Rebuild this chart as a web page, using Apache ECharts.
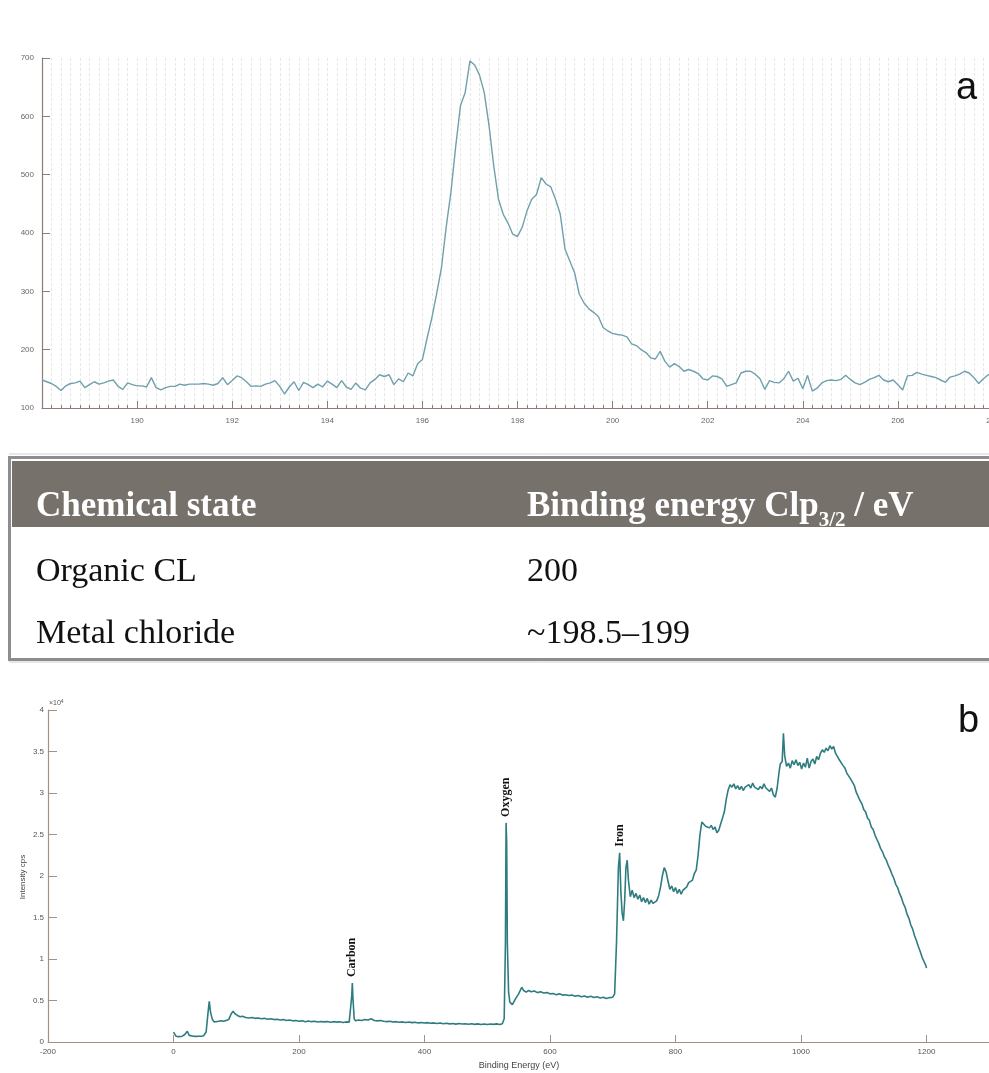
<!DOCTYPE html>
<html>
<head>
<meta charset="utf-8">
<script src="https://cdn.jsdelivr.net/npm/echarts@6/dist/echarts.min.js"></script>
<style>
  html, body { margin: 0; padding: 0; background: #ffffff; overflow: hidden; }
  #chart { width: 1070px; height: 1073px; }
</style>
</head>
<body>
<div id="chart"></div>
<script>
// ---- Panel a: Cl 2p high-resolution scan, 0.1 eV steps from 188.0 eV ----
const clStart = 188.0;
const clStep = 0.1;
const clIntensity = [
  148,145,142,137,130,138,142,143,146,135,   // 188.0 - 188.9
  140,145,141,143,146,148,137,132,143,140,   // 189
  138,138,136,152,135,131,135,137,137,141,   // 190
  139,141,141,141,142,141,139,142,152,140,   // 191
  147,155,152,145,137,138,137,141,143,147,   // 192
  137,124,136,145,130,144,140,135,141,136,   // 193
  146,141,135,147,136,132,143,134,131,143,   // 194
  149,157,154,157,140,150,145,160,155,176,   // 195
  183,220,255,296,340,410,470,548,618,641,   // 196
  695,688,671,641,585,515,458,432,417,398,   // 197
  394,410,438,458,466,495,484,479,458,432,   // 198
  372,352,332,295,280,270,264,257,238,232,   // 199
  228,226,225,222,210,207,200,195,186,184,   // 200
  197,180,170,176,171,163,166,163,159,150,   // 201
  148,155,154,150,137,140,143,160,163,163,   // 202
  158,150,132,147,144,143,150,163,146,151,   // 203
  133,156,129,134,143,147,148,147,149,156,   // 204
  149,143,140,144,149,152,156,148,145,148,   // 205
  140,131,155,156,161,158,156,154,152,148,   // 206
  144,153,155,158,163,160,152,142,150,157,   // 207
  158                                        // 208.0
];

// ---- Panel b: survey spectrum, [binding energy (eV), intensity (cps)] ----
const surveyValence = [
  [0,1200],[2,1000],[4,700],[6,900],[8,650],[10,600],[14,700],[18,900],[22,1300],[25,800],
  [28,650],[32,700],[36,680],[40,700],[44,690],[48,750],[52,1200],[55,3500],[57,4900],[59,3600],
  [62,2700],[65,2400],[68,2600],[72,2500],[76,2550],[80,2500],[84,2600],[88,2700],[92,3400],[95,3700],
  [98,3400],[102,3200],[106,3050],[110,3100],[115,2950],[120,2900],[125,2950],[130,2850],[135,2900],[140,2800],
  [145,2850],[150,2750],[155,2800],[160,2700],[165,2750],[170,2650],[175,2700],[180,2600],[185,2650],[190,2550],
  [195,2600],[200,2500],[205,2550],[210,2450],[215,2520],[220,2450],[225,2500],[230,2400],[235,2480],[240,2420],
  [245,2460],[250,2380],[255,2450],[260,2400],[265,2430],[270,2350],[275,2420],[280,2400]
];
const surveyCarbon = [
  [282,2600],[284,5500],[285,7100],[286,5200],[288,2800],[290,2550],[295,2650],[300,2600],[305,2700],[310,2650],
  [315,2800],[320,2600],[325,2550],[330,2600],[335,2500],[340,2450],[345,2500],[350,2400],[355,2450],[360,2380],
  [365,2420],[370,2350],[375,2400],[380,2330],[385,2380],[390,2300],[395,2350],[400,2280],[405,2330],[410,2250],
  [415,2300],[420,2220],[425,2280],[430,2200],[435,2250],[440,2180],[445,2230],[450,2150],[455,2220],[460,2170],
  [465,2200],[470,2130],[475,2190],[480,2120],[485,2180],[490,2110],[495,2170],[500,2100],[505,2160],[510,2120],
  [515,2180],[520,2100],[524,2200]
];
const surveyOxygen = [
  [527,2800],[529,12000],[530,26400],[531,24000],[532,12000],[534,6000],[536,4800],[540,4500],[545,5200],[550,5800],
  [555,6600],[558,6200],[562,6000],[566,6200],[570,6050],[575,6150],[580,5950],[585,6050],[590,5900],[595,5950],
  [600,5800],[605,5850],[610,5700],[615,5800],[620,5650],[625,5700],[630,5600],[635,5650],[640,5500],[645,5600],
  [650,5450],[655,5550],[660,5400],[665,5500],[670,5350],[675,5450],[680,5300],[685,5400],[690,5250],[695,5350],
  [700,5400],[703,5800]
];
const surveyIron = [
  [706,12000],[709,21000],[711,22800],[713,18000],[715,15500],[717,14600],[719,17000],[721,21000],[723,21900],[725,19500],
  [728,17500],[731,18300],[734,17400],[737,17900],[740,17200],[743,17700],[746,16900],[749,17400],[752,16800],[755,17300],
  [758,16600],[761,17100],[764,16700],[767,16900],[770,17000],[773,17600],[776,18600],[779,20000],[782,21000],[785,20500],
  [788,19400],[791,18400],[794,18800],[797,18100],[800,18600],[803,17900],[806,18400],[809,17800],[812,18300],[815,18500],
  [818,18700],[821,19200],[824,19000],[827,19500],[830,20300],[833,20700],[836,22500],[839,25000],[842,26500],[845,26300],
  [848,26000],[851,26200],[854,25800],[857,26100],[860,25600],[863,25900],[866,25200],[869,25500],[872,26300],[875,27000],
  [878,27800],[881,29300],[884,30400],[887,31000],[890,30700],[893,31100],[896,30500],[899,30900],[902,30400],[905,30800],
  [908,30300],[911,30700],[914,30500],[917,31000],[920,30600],[923,31200],[926,30700],[929,30900],[932,30400],[935,30800],
  [938,30500],[941,31100],[944,30600],[947,30800],[950,30200],[953,30600],[956,29800],[959,29500],[962,30600],[965,32500],
  [967,33500],[970,33800],[972,37200],[974,34500],[977,33200],[980,33600],[983,33000],[986,33900],[989,33400],[992,34000],
  [995,33300],[998,33700],[1001,32900],[1004,33600],[1007,33100],[1010,34200],[1013,33000],[1016,33800],[1019,34100],[1022,33500],
  [1025,34400],[1028,34000],[1031,34800],[1034,35200],[1037,34900],[1040,35400],[1043,35100],[1046,35700],[1049,35300],[1052,35600],
  [1055,34800],[1058,34900],[1061,34000],[1064,34200],[1067,33300],[1070,33000],[1073,32400],[1076,32600],[1079,31700],[1082,31300],
  [1085,30900],[1088,30100],[1091,29900],[1094,29100],[1097,28700],[1100,28000],[1103,27700],[1106,27000],[1109,26700],[1112,25900],
  [1115,25600],[1118,24900],[1121,24400],[1124,23900],[1127,23300],[1130,22900],[1133,22300],[1136,21900],[1139,21300],[1142,20800],
  [1145,20200],[1148,19700],[1151,19000],[1154,18600],[1157,17900],[1160,17400],[1163,16700],[1166,16200],[1169,15400],[1172,14900],
  [1175,14100],[1178,13600],[1181,12800],[1184,12200],[1187,11500],[1190,10900],[1193,10200],[1196,9700],[1199,9200],[1200,8900]
];

// Peak annotations in the survey
const peakLabels = ['Carbon', 'Oxygen', 'Iron'];
const peakEnergies = [285, 530, 711];

// Reference table of Cl 2p3/2 binding energies
const tableHeaderState = 'Chemical state';
const tableHeaderEnergy = ['Binding energy Clp', '3/2', ' / eV'];
const tableRows = [
  ['Organic CL', '200'],
  ['Metal chloride', '~198.5\u2013199']
];

const panelLetters = ['a', 'b'];
const surveyAxisNames = ['Binding Energy (eV)', 'Intensity cps'];

// ---------------------------------------------------------------
const clData = clIntensity.map((v, i) => [+(clStart + i * clStep).toFixed(1), v]);
const surveyData = [].concat(surveyValence, surveyCarbon, surveyOxygen, surveyIron);

const axisA = '#8c7e76';
const axisB = '#a39187';
const sansFont = '"Liberation Sans", Arial, sans-serif';
const serifFont = '"Liberation Serif", "Times New Roman", serif';

// the canvas is wider than the visible page so both axes run off the right edge
const chart = echarts.init(document.getElementById('chart'), null, { renderer: 'canvas' });

const option = {
  animation: false,
  backgroundColor: '#ffffff',
  grid: [
    { left: 42, top: 58, width: 951, height: 350, outerBoundsMode: 'none' },
    { left: 48, top: 710, width: 1004, height: 332, outerBoundsMode: 'none' }
  ],
  xAxis: [
    {
      gridIndex: 0, type: 'value', min: 188, max: 208, interval: 2,
      axisLine: { onZero: false, lineStyle: { color: axisA, width: 1.2 } },
      axisTick: { inside: true, length: 7, lineStyle: { color: axisA } },
      minorTick: { show: true, splitNumber: 10, length: 3, lineStyle: { color: axisA } },
      splitLine: { show: true, lineStyle: { color: '#e7e7e7', width: 1, type: [3, 2] } },
      minorSplitLine: { show: true, lineStyle: { color: '#e7e7e7', width: 1, type: [3, 2] } },
      axisLabel: { color: '#666', fontSize: 8, fontFamily: sansFont, margin: 9, showMinLabel: false,
        formatter: v => String(v) }
    },
    {
      gridIndex: 1, type: 'value', min: -200, max: 1400, interval: 200,
      axisLine: { onZero: false, lineStyle: { color: axisB, width: 1.2 } },
      axisTick: { inside: true, length: 7, lineStyle: { color: axisB } },
      splitLine: { show: false },
      axisLabel: { color: '#555', fontSize: 8, fontFamily: sansFont, margin: 6,
        formatter: v => String(v) }
    }
  ],
  yAxis: [
    {
      gridIndex: 0, type: 'value', min: 100, max: 700, interval: 100,
      axisLine: { show: true, onZero: false, lineStyle: { color: axisA, width: 1.2 } },
      axisTick: { show: true, inside: true, length: 8, lineStyle: { color: axisA } },
      splitLine: { show: false },
      axisLabel: { color: '#666', fontSize: 8, fontFamily: sansFont, margin: 8 }
    },
    {
      gridIndex: 1, type: 'value', min: 0, max: 40000, interval: 5000,
      axisLine: { show: true, onZero: false, lineStyle: { color: axisB, width: 1.2 } },
      axisTick: { show: true, inside: true, length: 9, lineStyle: { color: axisB } },
      splitLine: { show: false },
      axisLabel: {
        color: '#555', fontSize: 8, fontFamily: sansFont, margin: 4,
        formatter: v => String(v / 10000)
      }
    }
  ],
  series: [
    {
      type: 'line', xAxisIndex: 0, yAxisIndex: 0, data: clData,
      showSymbol: false, symbol: 'none',
      lineStyle: { color: '#6ea1ab', width: 1.4 }
    },
    {
      type: 'line', xAxisIndex: 1, yAxisIndex: 1, data: surveyData,
      showSymbol: false, symbol: 'none',
      lineStyle: { color: '#2f7c80', width: 1.6 }
    }
  ]
};

chart.setOption(option);

// ---- overlay graphics: table, panel letters, axis titles, peak labels ----
const g = [];

// table frame
g.push({ type: 'line', shape: { x1: 9, y1: 454, x2: 1070, y2: 454 }, style: { stroke: '#d0d0d0', lineWidth: 1 } });
g.push({ type: 'rect', shape: { x: 9.5, y: 457.5, width: 1080, height: 202 }, style: { fill: 'none', stroke: '#8d8d8d', lineWidth: 3 } });
g.push({ type: 'line', shape: { x1: 9, y1: 662, x2: 1070, y2: 662 }, style: { stroke: '#cfcfcf', lineWidth: 1 } });
g.push({ type: 'rect', shape: { x: 12, y: 461, width: 1070, height: 66 }, style: { fill: '#77716c' } });

// header
g.push({
  type: 'text', x: 36, y: 507,
  style: { text: tableHeaderState, font: 'bold 35px ' + serifFont, fill: '#ffffff', align: 'left', verticalAlign: 'middle' }
});
g.push({
  type: 'text', x: 527, y: 507,
  style: {
    text: '{m|' + tableHeaderEnergy[0] + '}{s|' + tableHeaderEnergy[1] + '}{m|' + tableHeaderEnergy[2] + '}',
    align: 'left', verticalAlign: 'middle',
    rich: {
      m: { fontSize: 35, fontWeight: 'bold', fontFamily: serifFont, fill: '#ffffff', lineHeight: 48 },
      s: { fontSize: 21, fontWeight: 'bold', fontFamily: serifFont, fill: '#ffffff', lineHeight: 22, verticalAlign: 'bottom' }
    }
  }
});

// body rows
const rowCentres = [572, 634];
tableRows.forEach((row, r) => {
  g.push({ type: 'text', x: 36, y: rowCentres[r],
    style: { text: row[0], font: '34px ' + serifFont, fill: '#111111', align: 'left', verticalAlign: 'middle' } });
  g.push({ type: 'text', x: 527, y: rowCentres[r],
    style: { text: row[1], font: '34px ' + serifFont, fill: '#111111', align: 'left', verticalAlign: 'middle' } });
});

// panel letters
g.push({ type: 'text', x: 956, y: 89,
  style: { text: panelLetters[0], font: '38px ' + sansFont, fill: '#111', align: 'left', verticalAlign: 'middle' } });
g.push({ type: 'text', x: 958, y: 722,
  style: { text: panelLetters[1], font: '38px ' + sansFont, fill: '#111', align: 'left', verticalAlign: 'middle' } });

// survey axis titles and exponent
g.push({ type: 'text', x: 519, y: 1066,
  style: { text: surveyAxisNames[0], font: '9px ' + sansFont, fill: '#444', align: 'center', verticalAlign: 'middle' } });
g.push({ type: 'text', x: 23, y: 877, rotation: Math.PI / 2,
  style: { text: surveyAxisNames[1], font: '8px ' + sansFont, fill: '#444', align: 'center', verticalAlign: 'middle' } });
g.push({ type: 'text', x: 49, y: 703,
  style: {
    text: '\u00d710{e|4}', align: 'left', verticalAlign: 'middle',
    fontSize: 7, fontFamily: sansFont, fill: '#555',
    rich: { e: { fontSize: 5, fontFamily: sansFont, fill: '#555', verticalAlign: 'top', lineHeight: 6 } }
  }
});

// element labels above their survey peaks
peakLabels.forEach((name, k) => {
  const pt = surveyData.find(p => p[0] === peakEnergies[k]);
  const px = chart.convertToPixel({ xAxisIndex: 1, yAxisIndex: 1 }, pt);
  g.push({
    type: 'text', x: px[0], y: px[1] - 6, rotation: Math.PI / 2,
    style: { text: name, font: 'bold 12px ' + serifFont, fill: '#111', align: 'left', verticalAlign: 'middle' }
  });
});

chart.setOption({ graphic: g });
</script>
</body>
</html>
